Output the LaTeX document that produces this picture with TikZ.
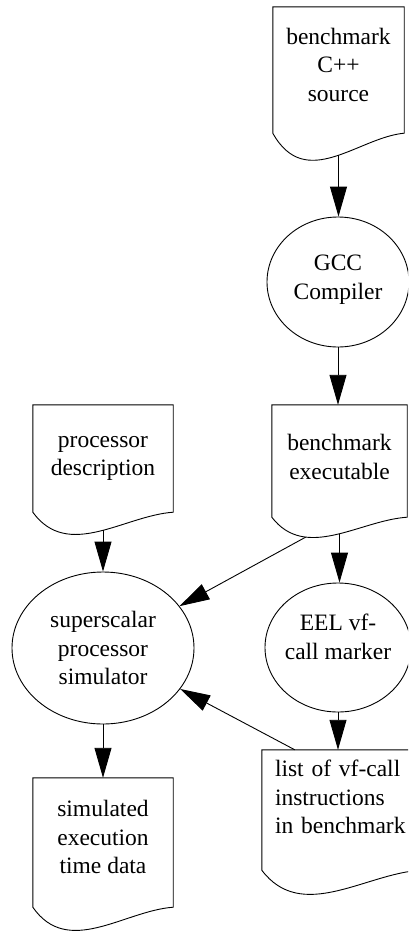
\documentclass[tikz,border=0pt]{standalone}
\usepackage{fontspec}
\setmainfont{Liberation Serif}
\usetikzlibrary{arrows.meta,shapes.geometric,calc}

% invisible strut that deepens the last line, lifting a label inside its node
\newcommand\lowpad[1]{\rule[-#1]{0pt}{#1}}

% document outline: a box whose bottom edge is a wave of the given depth;
% also names the middle (#1-c) and the trough (#1-dip) of that wave
\newcommand\docoutline[2]{%
  \draw[docline] let \p1=(#1.south west), \p2=(#1.north east), \n1={\x2-\x1} in
    (\p1) -- (\x1,\y2) -- (\p2) -- (\x2,\y1)
    .. controls (\x1+0.65*\n1,\y1-0.15*#2) and (\x1+0.25*\n1,\y1-2.1*#2) .. (\p1) -- cycle;
  \path let \p1=(#1.south west), \p2=(#1.north east), \n1={\x2-\x1} in
    (\x1+0.5*\n1,\y1-0.78*#2) coordinate (#1-c)
    (\x1+0.25*\n1,\y1-0.95*#2) coordinate (#1-dip);
}

\begin{document}
\begin{tikzpicture}[x=1pt,y=-1pt,
  every node/.style={font=\fontsize{23.5}{28.5}\selectfont, align=center, inner sep=0pt},
  doc/.style={rectangle},
  task/.style={ellipse, draw, line width=0.9pt, inner xsep=-15pt},
  docline/.style={line width=0.9pt, line join=miter},
  link/.style={line width=0.9pt, -{Triangle[length=30pt,width=17pt]}}
]
\useasboundingbox (0,0) rectangle (408,932);
\fill[white] (0,0) rectangle (408,932);
\clip (0,0) rectangle (408,932);

% files
\node[doc, minimum width=131pt, minimum height=126pt] (src) at (338.5,70)
  {benchmark\\C++\\source\lowpad{11pt}};
\node[doc, minimum width=135pt, minimum height=112pt] (exe) at (339.5,461)
  {benchmark\\executable\lowpad{8pt}};
\node[doc, minimum width=140pt, minimum height=107pt] (cfg) at (103,458.5)
  {processor\\description};
\node[doc, minimum width=158pt, minimum height=120pt, text width=132pt, align=left] (lst) at (341,810)
  {list of vf-call\\instructions\\in benchmark\lowpad{26pt}};
\node[doc, minimum width=140pt, minimum height=129pt] (out) at (103,842.5)
  {simulated\\execution\\time data\lowpad{11pt}};

\docoutline{src}{28pt}
\docoutline{exe}{21pt}
\docoutline{cfg}{23pt}
\docoutline{lst}{25pt}
\docoutline{out}{24pt}

% tools
\node[task, minimum width=142pt, minimum height=130pt] (gcc) at (338,282)
  {GCC\\Compiler\lowpad{10pt}};
\node[task, minimum width=182pt, minimum height=152pt] (sim) at (103,648)
  {superscalar\\processor\\simulator};
\node[task, minimum width=146pt, minimum height=129pt] (eel) at (338,647.5)
  {EEL vf-\\call marker\lowpad{22pt}};

% data flow
\draw[link] (src-c) -- (src-c |- gcc.north);
\draw[link] (gcc.south) -- (gcc.south |- exe.north);
\draw[link] (exe-c) -- (exe-c |- eel.north);
\draw[link] (eel.south) -- (eel.south |- lst.north);
\draw[link] (cfg-c) -- (cfg-c |- sim.north);
\draw[link] (exe-dip) -- (sim);
\draw[link] ([xshift=33pt]lst.north west) -- (sim);
\draw[link] (sim.south) -- (out.north);
\end{tikzpicture}
\end{document}
